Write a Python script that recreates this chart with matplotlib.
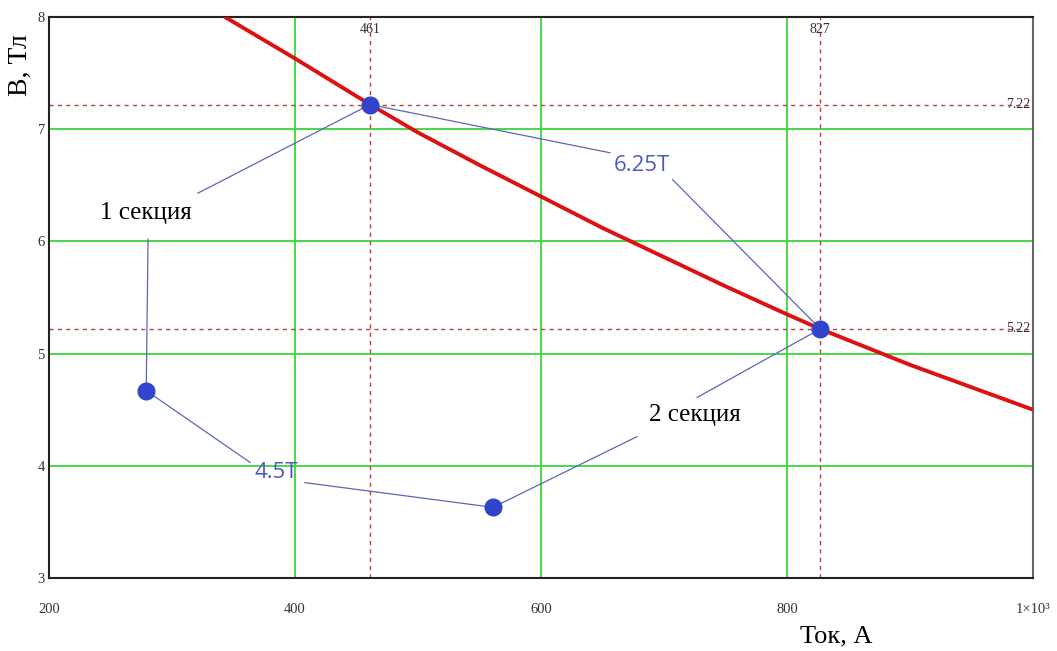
import matplotlib.pyplot as plt

# B(I) curve of the magnet, current in A, field in T
current = [343, 400, 461, 500, 550, 600, 650, 700, 750, 800, 827, 900, 950, 1000]
field = [8.0, 7.63, 7.22, 6.97, 6.68, 6.40, 6.12, 5.86, 5.60, 5.35, 5.22, 4.90, 4.70, 4.50]

# operating points of the two sections
point_I = [279, 461, 561, 827]
point_B = [4.67, 7.22, 3.63, 5.22]

# crossing points marked with dashed lines
cross_I = [461, 827]
cross_B = [7.22, 5.22]

x_ticks = [200, 400, 600, 800, 1000]
x_tick_labels = ["200", "400", "600", "800", "1×10³"]
y_ticks = [3, 4, 5, 6, 7, 8]

# callouts: text, text position, list of (line start, point index)
callouts = [
    ("1 секция", (279, 6.25), [((321, 6.43), 1), ((280.5, 6.02), 0)], "black", "Liberation Serif", 18),
    ("4.5T", (385, 3.94), [((363.5, 4.03), 0), ((408, 3.85), 2)], "#4d5bbf", "Open Sans", 16),
    ("2 секция", (725, 4.45), [((678, 4.26), 2), ((727, 4.61), 3)], "black", "Liberation Serif", 18),
    ("6.25T", (682, 6.68), [((656, 6.79), 1), ((707, 6.55), 3)], "#4d5bbf", "Open Sans", 16),
]

fig = plt.figure(figsize=(10.57, 6.51), dpi=100)
ax = fig.add_axes([0.0464, 0.1121, 0.9309, 0.8618])

ax.set_xlim(200, 1000)
ax.set_ylim(3, 8)

# green grid
for x in x_ticks[1:-1]:
    ax.axvline(x, color="#3ad63a", lw=1.3, zorder=1)
for y in y_ticks[1:-1]:
    ax.axhline(y, color="#3ad63a", lw=1.3, zorder=1)

# dashed markers of the crossings
for x in cross_I:
    ax.axvline(x, color="#c83a3a", lw=1.0, ls=(0, (3, 3)), zorder=2)
    ax.text(x, 7.95, str(x), ha="center", va="top", fontsize=10,
            family="Liberation Serif", color="#333333")
for y in cross_B:
    ax.axhline(y, color="#c83a3a", lw=1.0, ls=(0, (3, 3)), zorder=2)
    ax.text(998, y, f"{y:.2f}", ha="right", va="center", fontsize=10,
            family="Liberation Serif", color="#333333")

ax.plot(current, field, color="#dd1111", lw=2.8, zorder=3, solid_capstyle="butt")

for text, pos, lines, col, fam, size in callouts:
    for start, idx in lines:
        ax.plot([start[0], point_I[idx]], [start[1], point_B[idx]],
                color="#5a67b5", lw=0.9, zorder=4)
    ax.text(pos[0], pos[1], text, ha="center", va="center", fontsize=size,
            family=fam, color=col, zorder=5)

ax.plot(point_I, point_B, "o", ls="none", color="#3344cc", ms=12, zorder=6)

ax.set_xticks(x_ticks)
ax.set_xticklabels(x_tick_labels)
ax.set_yticks(y_ticks)
ax.tick_params(length=0, labelsize=10.5, colors="#333333")
ax.tick_params(axis="x", pad=18)
ax.tick_params(axis="y", pad=3)
for lab in ax.get_xticklabels() + ax.get_yticklabels():
    lab.set_family("Liberation Serif")

for side in ["left", "bottom", "top"]:
    ax.spines[side].set_color("#222222")
    ax.spines[side].set_linewidth(1.5)
ax.spines["right"].set_color("#666666")
ax.spines["right"].set_linewidth(1.5)

fig.text(0.019, 0.90, "B, Тл", rotation=90, ha="center", va="center",
         fontsize=20, family="Liberation Serif")
fig.text(0.791, 0.022, "Ток, А", ha="center", va="center",
         fontsize=19, family="Liberation Serif")

fig.savefig("out.png", dpi=100)
